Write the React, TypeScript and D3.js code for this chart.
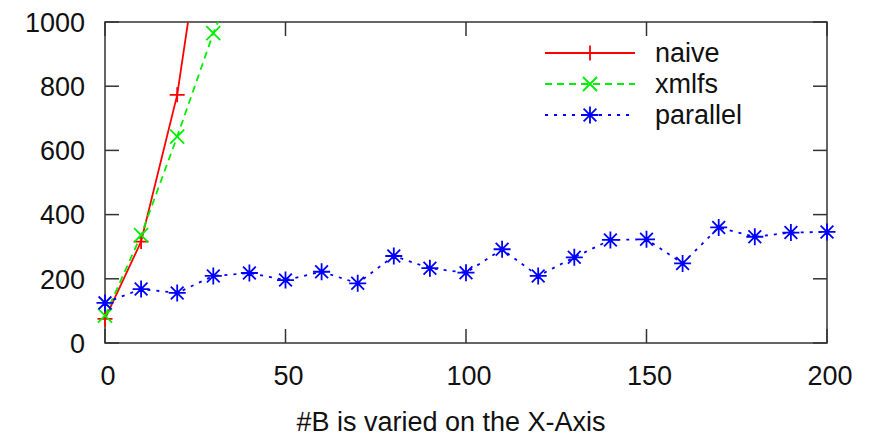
import React, { useRef, useEffect } from "react";
import * as d3 from "d3";

// values
const naiveX = [0, 10, 20, 30];
const naiveY = [75, 316, 773, 1530];
const xmlfsX = [0, 10, 20, 30, 40];
const xmlfsY = [85, 336, 643, 965, 1235];
const parallelX = [0, 10, 20, 30, 40, 50, 60, 70, 80, 90, 100, 110, 120, 130, 140, 150, 160, 170, 180, 190, 200];
const parallelY = [125, 168, 156, 209, 218, 196, 222, 186, 271, 233, 219, 292, 209, 267, 321, 323, 248, 360, 331, 344, 346];
const xTicks = [0, 50, 100, 150, 200];
const yTicks = [0, 200, 400, 600, 800, 1000];
const xLabel = "#B is varied on the X-Axis";

const series = [
	{ name: "naive", xs: naiveX, ys: naiveY, color: "#ff0000", dash: null, marker: "plus", size: 15 },
	{ name: "xmlfs", xs: xmlfsX, ys: xmlfsY, color: "#00ee00", dash: "7,5", marker: "cross", size: 14 },
	{ name: "parallel", xs: parallelX, ys: parallelY, color: "#0000ff", dash: "3,6", marker: "star", size: 17 },
];

const W = 871;
const H = 439;
const margin = { top: 22, right: 44, bottom: 96, left: 105 };
const FONT = "'Liberation Sans', Arial, sans-serif";

function markerPath(type, x, y, s) {
	const p = d3.path();
	const h = s / 2;
	if (type === "plus" || type === "star") {
		p.moveTo(x - h, y);
		p.lineTo(x + h, y);
		p.moveTo(x, y - h);
		p.lineTo(x, y + h);
	}
	if (type === "cross" || type === "star") {
		const d = type === "star" ? h * 0.75 : h;
		p.moveTo(x - d, y - d);
		p.lineTo(x + d, y + d);
		p.moveTo(x - d, y + d);
		p.lineTo(x + d, y - d);
	}
	return p.toString();
}

const App = () => {
	const svgRef = useRef();

	useEffect(() => {
		const svg = d3.select(svgRef.current);
		svg.selectAll("*").remove();

		const x = d3.scaleLinear().domain([0, 200]).range([margin.left, W - margin.right]);
		const y = d3.scaleLinear().domain([0, 1000]).range([H - margin.bottom, margin.top]);
		const [x0, x1] = x.range();
		const [y0, y1] = y.range();

		svg.append("defs")
			.append("clipPath")
			.attr("id", "plotClip")
			.append("rect")
			.attr("x", x0)
			.attr("y", y1)
			.attr("width", x1 - x0)
			.attr("height", y0 - y1);

		const axisColor = "#333";
		const tickLen = 14;
		const gAxis = svg.append("g").attr("stroke", axisColor).attr("stroke-width", 1.5);

		// inward ticks on all four sides, like gnuplot
		xTicks.forEach((t) => {
			gAxis.append("line").attr("x1", x(t)).attr("x2", x(t)).attr("y1", y0).attr("y2", y0 - tickLen);
			gAxis.append("line").attr("x1", x(t)).attr("x2", x(t)).attr("y1", y1).attr("y2", y1 + tickLen);
		});
		yTicks.forEach((t) => {
			gAxis.append("line").attr("x1", x0).attr("x2", x0 + tickLen).attr("y1", y(t)).attr("y2", y(t));
			gAxis.append("line").attr("x1", x1).attr("x2", x1 - tickLen).attr("y1", y(t)).attr("y2", y(t));
		});

		svg.append("rect")
			.attr("x", x0)
			.attr("y", y1)
			.attr("width", x1 - x0)
			.attr("height", y0 - y1)
			.attr("fill", "none")
			.attr("stroke", axisColor)
			.attr("stroke-width", 1.5);

		const gText = svg.append("g").attr("font-family", FONT).attr("font-size", 27).attr("fill", "#111");

		gText.selectAll(".ytick")
			.data(yTicks)
			.enter()
			.append("text")
			.attr("x", x0 - 20)
			.attr("y", (d) => y(d))
			.attr("dy", "0.36em")
			.attr("text-anchor", "end")
			.text((d) => d);

		gText.selectAll(".xtick")
			.data(xTicks)
			.enter()
			.append("text")
			.attr("x", (d) => x(d) + 3)
			.attr("y", 385)
			.attr("text-anchor", "middle")
			.text((d) => d);

		gText.append("text")
			.attr("x", 451)
			.attr("y", 431)
			.attr("text-anchor", "middle")
			.text(xLabel);

		const line = d3
			.line()
			.x((d) => x(d[0]))
			.y((d) => y(d[1]));

		const gLines = svg.append("g").attr("clip-path", "url(#plotClip)");
		const gMarks = svg.append("g");

		series.forEach((s) => {
			const pts = s.xs.map((v, i) => [v, s.ys[i]]);
			gLines.append("path")
				.attr("d", line(pts))
				.attr("fill", "none")
				.attr("stroke", s.color)
				.attr("stroke-width", 1.8)
				.attr("stroke-dasharray", s.dash);

			const inside = pts.filter((p) => p[1] <= 1000);
			gMarks.append("path")
				.attr("d", inside.map((p) => markerPath(s.marker, x(p[0]), y(p[1]), s.size)).join(""))
				.attr("fill", "none")
				.attr("stroke", s.color)
				.attr("stroke-width", 1.8);
		});

		// legend
		const legendRows = [62, 93, 124];
		series.forEach((s, i) => {
			const cy = legendRows[i] - 9;
			svg.append("line")
				.attr("x1", 545)
				.attr("x2", 635)
				.attr("y1", cy)
				.attr("y2", cy)
				.attr("stroke", s.color)
				.attr("stroke-width", 1.8)
				.attr("stroke-dasharray", s.dash);
			svg.append("path")
				.attr("d", markerPath(s.marker, 590, cy, s.size))
				.attr("fill", "none")
				.attr("stroke", s.color)
				.attr("stroke-width", 1.8);
			gText.append("text")
				.attr("x", 655)
				.attr("y", legendRows[i])
				.text(s.name);
		});
	}, []);

	return (
		<div style={{ position: "fixed", top: 0, left: 0, background: "#fff" }}>
			<svg ref={svgRef} width={W} height={H} style={{ display: "block" }} />
		</div>
	);
};

export default App;
